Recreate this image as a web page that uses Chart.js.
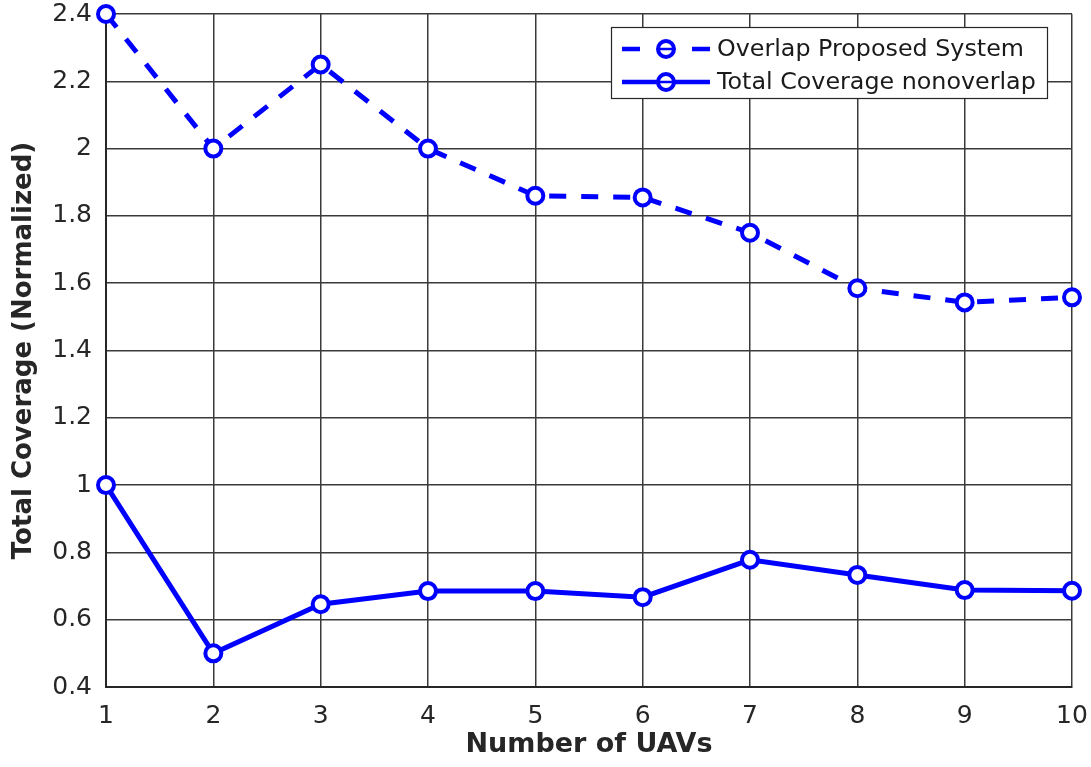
<!DOCTYPE html>
<html>
<head>
<meta charset="utf-8">
<script src="https://cdn.jsdelivr.net/npm/chart.js@4.4.1/dist/chart.umd.min.js"></script>
<style>
  html, body { margin: 0; padding: 0; background: #ffffff; }
  #wrap { width: 1091px; height: 767px; }
</style>
</head>
<body>
<div id="wrap"><canvas id="chart" width="1091" height="767"></canvas></div>
<script>
// Number of UAVs on the x axis
const uavCounts = [1, 2, 3, 4, 5, 6, 7, 8, 9, 10];
// Normalized total coverage, overlapping placement (proposed system)
const overlapProposed = [2.4, 2.0, 2.25, 2.0, 1.86, 1.855, 1.75, 1.585, 1.543, 1.558];
// Normalized total coverage without overlap
const nonOverlap = [1.0, 0.5, 0.646, 0.685, 0.685, 0.667, 0.778, 0.733, 0.688, 0.686];
// Series names shown in the legend
const seriesNames = ['Overlap Proposed System', 'Total Coverage nonoverlap'];
// Y axis range and step
const yTicks = { min: 0.4, max: 2.4, step: 0.2 };

const BLUE = '#0000ff';
const TEXT = '#262626';
const FONT = "'DejaVu Sans', 'Liberation Sans', Arial, sans-serif";

const toPoints = (xs, ys) => xs.map((x, i) => ({ x: x, y: ys[i] }));

// Edge labels may overhang the plot; keep the plot frame fixed
const noOverhang = (scale) => {
  scale.paddingTop = 0; scale.paddingBottom = 0;
  scale.paddingLeft = 0; scale.paddingRight = 0;
};

// Boxed legend drawn inside the plot area, top right
const boxLegend = {
  id: 'boxLegend',
  afterDatasetsDraw(chart) {
    const ctx = chart.ctx;
    const bx = 611, by = 27, bw = 436, bh = 71;
    ctx.save();
    ctx.fillStyle = '#ffffff';
    ctx.fillRect(bx, by, bw, bh);
    ctx.strokeStyle = '#262626';
    ctx.lineWidth = 1.2;
    ctx.strokeRect(bx + 0.5, by + 0.5, bw, bh);

    const rows = [by + 22, by + 55];
    const x0 = 622, x1 = 710, cx = 666;
    chart.data.datasets.forEach((ds, i) => {
      const y = rows[i];
      ctx.strokeStyle = ds.borderColor;
      ctx.lineWidth = 4.5;
      ctx.lineCap = 'butt';
      ctx.setLineDash([]);
      ctx.beginPath();
      if (ds.borderDash && ds.borderDash.length) {
        ctx.moveTo(x0, y); ctx.lineTo(x0 + 18, y);
        ctx.moveTo(x1 - 18, y); ctx.lineTo(x1, y);
      } else {
        ctx.moveTo(x0, y); ctx.lineTo(x1, y);
      }
      ctx.stroke();
      // marker
      ctx.beginPath();
      ctx.arc(cx, y, ds.pointRadius, 0, Math.PI * 2);
      ctx.fillStyle = '#ffffff';
      ctx.fill();
      ctx.lineWidth = ds.pointBorderWidth;
      ctx.stroke();
      ctx.lineWidth = 2.5;
      ctx.beginPath();
      ctx.moveTo(cx - 6, y); ctx.lineTo(cx + 6, y);
      ctx.stroke();
      // label
      ctx.fillStyle = '#1a1a1a';
      ctx.font = '23.8px ' + FONT;
      ctx.textBaseline = 'middle';
      ctx.textAlign = 'left';
      ctx.fillText(ds.label, 717, y + 1);
    });
    ctx.restore();
  }
};

new Chart(document.getElementById('chart'), {
  type: 'line',
  data: {
    datasets: [
      {
        label: seriesNames[0],
        data: toPoints(uavCounts, overlapProposed),
        borderColor: BLUE,
        borderWidth: 5,
        borderDash: [17, 15],
        pointRadius: 8,
        pointBorderWidth: 4,
        pointBackgroundColor: '#ffffff',
        pointBorderColor: BLUE,
        tension: 0,
        clip: false
      },
      {
        label: seriesNames[1],
        data: toPoints(uavCounts, nonOverlap),
        borderColor: BLUE,
        borderWidth: 5,
        pointRadius: 8,
        pointBorderWidth: 4,
        pointBackgroundColor: '#ffffff',
        pointBorderColor: BLUE,
        tension: 0,
        clip: false
      }
    ]
  },
  options: {
    responsive: false,
    animation: false,
    devicePixelRatio: 1,
    layout: { padding: { top: 14, right: 19, left: 0, bottom: 0 } },
    plugins: {
      legend: { display: false },
      tooltip: { enabled: false }
    },
    scales: {
      x: {
        type: 'linear',
        min: uavCounts[0],
        max: uavCounts[uavCounts.length - 1],
        afterFit(scale) { scale.height = 80; noOverhang(scale); },
        ticks: {
          stepSize: 1,
          color: TEXT,
          padding: 14,
          maxRotation: 0,
          font: { family: FONT, size: 25 }
        },
        grid: { color: '#3a3a3a', lineWidth: 1.5, drawTicks: false },
        border: { color: '#262626', width: 2 },
        title: {
          display: true,
          text: 'Number of UAVs',
          color: TEXT,
          padding: { top: 0, bottom: 6 },
          font: { family: FONT, size: 27, weight: 'bold' }
        }
      },
      y: {
        min: yTicks.min,
        max: yTicks.max,
        afterFit(scale) { scale.width = 106; noOverhang(scale); },
        ticks: {
          stepSize: yTicks.step,
          color: TEXT,
          padding: 14,
          font: { family: FONT, size: 25 },
          callback: (v) => String(Number(v.toFixed(1)))
        },
        grid: { color: '#3a3a3a', lineWidth: 1.5, drawTicks: false },
        border: { color: '#262626', width: 2 },
        title: {
          display: true,
          text: 'Total Coverage (Normalized)',
          color: TEXT,
          padding: { top: 9, bottom: 0 },
          font: { family: FONT, size: 26, weight: 'bold' }
        }
      }
    }
  },
  plugins: [boxLegend]
});
</script>
</body>
</html>
